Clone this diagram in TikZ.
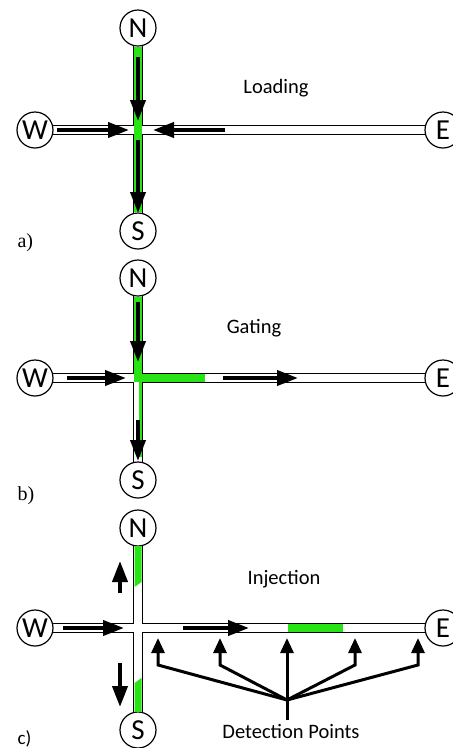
\documentclass[tikz,border=0pt]{standalone}
\usepackage{fontspec}
\setmainfont{Carlito}
\newfontfamily\serifletter{Liberation Serif}
\usetikzlibrary{arrows.meta}
\pgfdeclarelayer{back}
\pgfsetlayers{back,main}
\definecolor{dye}{RGB}{40,228,20}
\tikzset{
    port/.style={circle, draw, line width=1.2pt, fill=white, minimum size=36pt,
        inner sep=0pt, font=\fontsize{29}{29}\selectfont},
    wall/.style={line width=10pt},
    bore/.style={white, line width=8pt},
    plug/.style={dye, line width=8pt},
    flow/.style={line width=4pt, -{Triangle[length=21pt,width=15pt]}},
    detect/.style={line width=3pt, -{Triangle[length=15pt,width=13pt]}},
    title/.style={anchor=base, font=\fontsize{20.5}{21}\selectfont},
    panel/.style={anchor=base west, font=\serifletter\fontsize{20}{20}\selectfont},
}

\begin{document}
\begin{tikzpicture}[x=1pt, y=-1pt]
    \useasboundingbox (0,0) rectangle (453,748);

    % a) loading
    \begin{scope}
        % draw the ports
        \node[port] (Na) at (138,28) {N};
        \node[port] (Sa) at (138,231) {S};
        \node[port] (Wa) at (35,130) {W};
        \node[port] (Ea) at (443,130) {E};
        % draw the channels
        \begin{pgfonlayer}{back}
            \draw[wall] (Wa.center) -- (Ea.center);
            \draw[wall] (Na.center) -- (Sa.center);
            \draw[bore] (Wa.center) -- (Ea.center);
            \draw[bore] (Na.center) -- (Sa.center);
        \end{pgfonlayer}
        % draw the sample
        \draw[plug] (Na) -- (Sa);
        % draw the flow
        \draw[flow] (138,57) -- (138,121);
        \draw[flow] (57,130) -- (129,130);
        \draw[flow] (225,130) -- (153,130);
        \draw[flow] (138,140) -- (138,213);
        \node[title] (load) at (276,93) {Loading};
        \node[panel] (pa) at (14,247) {a)};
    \end{scope}

    % b) gating
    \begin{scope}[shift={(0,249)}]
        % draw the ports
        \node[port] (Nb) at (138,29) {N};
        \node[port] (Sb) at (138,231) {S};
        \node[port] (Wb) at (35,129) {W};
        \node[port] (Eb) at (443,129) {E};
        % draw the channels
        \begin{pgfonlayer}{back}
            \draw[wall] (Wb.center) -- (Eb.center);
            \draw[wall] (Nb.center) -- (Sb.center);
            \draw[bore] (Wb.center) -- (Eb.center);
            \draw[bore] (Nb.center) -- (Sb.center);
        \end{pgfonlayer}
        % draw the sample
        \draw[plug] (Nb) -- (138,129) -- (205,129);
        \draw[dye, line width=3pt] (140,133) -- (140,208);
        % draw the flow
        \draw[flow] (138,53) -- (138,113);
        \draw[flow] (67,129) -- (126,129);
        \draw[flow] (223,129) -- (298,129);
        \draw[flow] (138,171) -- (138,212);
        \node[title] (gate) at (254,84) {Gating};
        \node[panel] (pb) at (14,251) {b)};
    \end{scope}

    % c) injection
    \begin{scope}[shift={(0,499)}]
        % draw the ports
        \node[port] (Nc) at (138,29) {N};
        \node[port] (Sc) at (138,231) {S};
        \node[port] (Wc) at (35,129) {W};
        \node[port] (Ec) at (443,129) {E};
        % draw the channels
        \begin{pgfonlayer}{back}
            \draw[wall] (Wc.center) -- (Ec.center);
            \draw[wall] (Nc.center) -- (Sc.center);
            \draw[bore] (Wc.center) -- (Ec.center);
            \draw[bore] (Nc.center) -- (Sc.center);
        \end{pgfonlayer}
        % draw the sample
        \fill[dye] (134.5,47) -- (141.5,47) -- (141.5,83) -- (134.5,88) -- cycle;
        \fill[dye] (134.5,213) -- (141.5,213) -- (141.5,179) -- (134.5,184) -- cycle;
        \draw[plug] (288,129) -- (343,129);
        % draw the flow
        \draw[flow] (120,94) -- (120,62);
        \draw[flow] (120,164) -- (120,208);
        \draw[flow] (63,129) -- (124,129);
        \draw[flow] (183,129) -- (249,129);
        \node[title] (inject) at (284,85) {Injection};
        % draw the detection points
        \node[title] (points) at (291,239) {Detection Points};
        \coordinate (hub) at (287,201);
        \draw[detect] (hub |- points.north) -- (hub) -- (287,139);
        \foreach \dx in {158,220,355,418}
            \draw[detect] (hub) -- (\dx,166) -- (\dx,139);
        \node[panel, font=\fontsize{19}{19}\selectfont] (pc) at (14,245) {c)};
    \end{scope}
\end{tikzpicture}
\end{document}
